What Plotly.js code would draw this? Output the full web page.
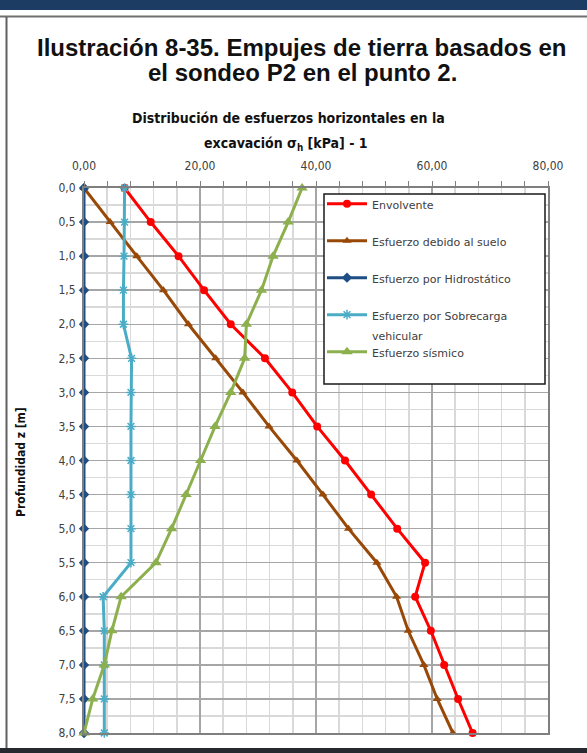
<!DOCTYPE html>
<html>
<head>
<meta charset="utf-8">
<script src="https://cdn.plot.ly/plotly-3.0.1.min.js"></script>
<style>
html,body{margin:0;padding:0;background:#ffffff;}
#chart{width:587px;height:753px;}
</style>
</head>
<body>
<div id="chart"></div>
<script>
// ---- data ----
const depth = [0.0,0.5,1.0,1.5,2.0,2.5,3.0,3.5,4.0,4.5,5.0,5.5,6.0,6.5,7.0,7.5,8.0];
const envolvente = [7.0,11.5,16.3,20.7,25.3,31.2,35.9,40.2,45.0,49.5,54.0,58.8,57.1,59.8,62.1,64.5,67.0];
const suelo = [0.0,4.5,9.1,13.7,18.0,22.7,27.4,31.9,36.7,41.2,45.6,50.5,53.9,55.9,58.6,60.9,63.6];
const hidrostatico = [0,0,0,0,0,0,0,0,0,0,0,0,0,0,0,0,0];
const sobrecarga = [7.0,7.0,6.9,6.8,6.8,8.2,8.1,8.1,8.1,8.1,8.1,8.1,3.3,3.5,3.5,3.5,3.5];
const sismico = [37.6,35.2,32.6,30.6,28.0,27.7,25.3,22.6,20.1,17.6,15.1,12.4,6.4,4.8,3.5,1.5,0.0];
const seriesNames = ["Envolvente","Esfuerzo debido al suelo","Esfuerzo por Hidrostático","Esfuerzo por Sobrecarga","Esfuerzo sísmico"];
const seriesNameCont = "vehicular"; // second line of the 4th legend entry
const xTickVals = [0,20,40,60,80];
const yTickVals = [0,0.5,1,1.5,2,2.5,3,3.5,4,4.5,5,5.5,6,6.5,7,7.5,8];

// ---- layout geometry (pixels) ----
const W = 587, H = 753;
const L = 84, R = 548, T = 188, B = 733;
const px2x = p => (p - L) / (R - L);
const py2y = p => (B - p) / (B - T);

const narrow = "DejaVu Sans Condensed, Liberation Sans, sans-serif";
const sans = "Liberation Sans, Arial, sans-serif";
const legFont = {family: "DejaVu Sans, sans-serif", size: 11, color: "#404040"};

function tr(x, name, color, symbol, size, extra) {
  const t = {
    x: x, y: depth, name: name, type: "scatter", mode: "lines+markers",
    legendgroup: name,
    line: {color: color, width: 3},
    marker: {color: color, symbol: symbol, size: size},
    cliponaxis: false
  };
  if (extra) Object.assign(t.marker, extra);
  return t;
}

const traces = [
  tr(envolvente, seriesNames[0], "#ff0000", "circle", 8),
  tr(suelo, seriesNames[1], "#984807", "triangle-up", 8),
  tr(hidrostatico, seriesNames[2], "#1f4e85", "diamond", 8),
  tr(sobrecarga, seriesNames[3], "#4bacc6", "asterisk-open", 8, {line: {color: "#4bacc6", width: 1.5}}),
  tr(sismico, seriesNames[4], "#8db04f", "triangle-up", 10)
];

const shapes = [
  {type:"rect", xref:"paper", yref:"paper", x0:px2x(0), x1:px2x(W), y0:py2y(0), y1:py2y(10), fillcolor:"#1c3c64", line:{width:0}, layer:"below"},
  {type:"line", xref:"paper", yref:"paper", x0:px2x(0), x1:px2x(W), y0:py2y(16.5), y1:py2y(16.5), line:{color:"#707070", width:2}},
  {type:"line", xref:"paper", yref:"paper", x0:px2x(6.5), x1:px2x(6.5), y0:py2y(17), y1:py2y(748), line:{color:"#606060", width:2}},
  {type:"rect", xref:"paper", yref:"paper", x0:px2x(0), x1:px2x(W), y0:py2y(748), y1:py2y(H), fillcolor:"#262a30", line:{width:0}},
  // legend box
  {type:"rect", xref:"paper", yref:"paper", x0:px2x(324), x1:px2x(545), y0:py2y(194), y1:py2y(384), fillcolor:"#ffffff", line:{color:"#1a1a1a", width:1.5}, layer:"above"}
];

const annotations = [
  {text:"Ilustración 8-35. Empujes de tierra basados en", x:px2x(302), y:py2y(47), xref:"paper", yref:"paper", showarrow:false, xanchor:"center", yanchor:"middle", font:{family:sans, size:24, color:"#111111", weight:"bold"}},
  {text:"el sondeo P2 en el punto 2.", x:px2x(302), y:py2y(73), xref:"paper", yref:"paper", showarrow:false, xanchor:"center", yanchor:"middle", font:{family:sans, size:24, color:"#111111", weight:"bold"}},
  {text:"Distribución de esfuerzos horizontales en la", x:px2x(288), y:py2y(118), xref:"paper", yref:"paper", showarrow:false, xanchor:"center", yanchor:"middle", font:{family:narrow, size:14, color:"#111111", weight:"bold"}},
  {text:"excavación σ<sub>h</sub> [kPa] - 1", x:px2x(286), y:py2y(144), xref:"paper", yref:"paper", showarrow:false, xanchor:"center", yanchor:"middle", font:{family:narrow, size:14, color:"#111111", weight:"bold"}},
  {text:"Profundidad z [m]", x:px2x(21), y:py2y(462), xref:"paper", yref:"paper", showarrow:false, textangle:-90, xanchor:"center", yanchor:"middle", font:{family:narrow, size:12, color:"#111111", weight:"bold"}},
  {text:seriesNameCont, x:px2x(370), y:py2y(336), xref:"paper", yref:"paper", showarrow:false, xanchor:"left", yanchor:"middle", font:legFont}
];

const layout = {
  width: W, height: H,
  margin: {l: L, r: W - R, t: T, b: H - B, pad: 0},
  paper_bgcolor: "#ffffff",
  plot_bgcolor: "#ffffff",
  separators: ",.",
  showlegend: true,
  xaxis: {
    range: [0, 80], side: "top", tickvals: xTickVals, tickformat: ".2f",
    tickfont: {family: narrow, size: 12, color: "#404040"},
    ticks: "outside", ticklen: 5, tickcolor: "#808080", tickwidth: 1,
    ticklabelstandoff: 6,
    showgrid: true, gridcolor: "#a6a6a6", gridwidth: 1.5,
    minor: {dtick: 4, showgrid: true, gridcolor: "#d9d9d9", gridwidth: 1.5, ticks: "outside", ticklen: 5, tickcolor: "#808080"},
    showline: true, mirror: true, linecolor: "#7f7f7f", linewidth: 2,
    zeroline: false, fixedrange: true
  },
  yaxis: {
    range: [8, 0], tickvals: yTickVals, tickformat: ".1f",
    tickfont: {family: narrow, size: 12, color: "#404040"},
    ticks: "", ticklabelstandoff: 4,
    showgrid: true, gridcolor: "#a6a6a6", gridwidth: 1.5,
    minor: {dtick: 0.25, showgrid: true, gridcolor: "#d9d9d9", gridwidth: 1.5},
    showline: true, mirror: true, linecolor: "#7f7f7f", linewidth: 2,
    zeroline: false, fixedrange: true
  },
  legend: {
    x: px2x(322), y: py2y(190), xanchor: "left", yanchor: "top",
    bgcolor: "rgba(0,0,0,0)", borderwidth: 0,
    font: legFont,
    itemwidth: 40, tracegroupgap: 18, valign: "top",
    traceorder: "grouped"
  },
  shapes: shapes,
  annotations: annotations
};

Plotly.newPlot("chart", traces, layout, {displayModeBar: false, staticPlot: true});
</script>
</body>
</html>
